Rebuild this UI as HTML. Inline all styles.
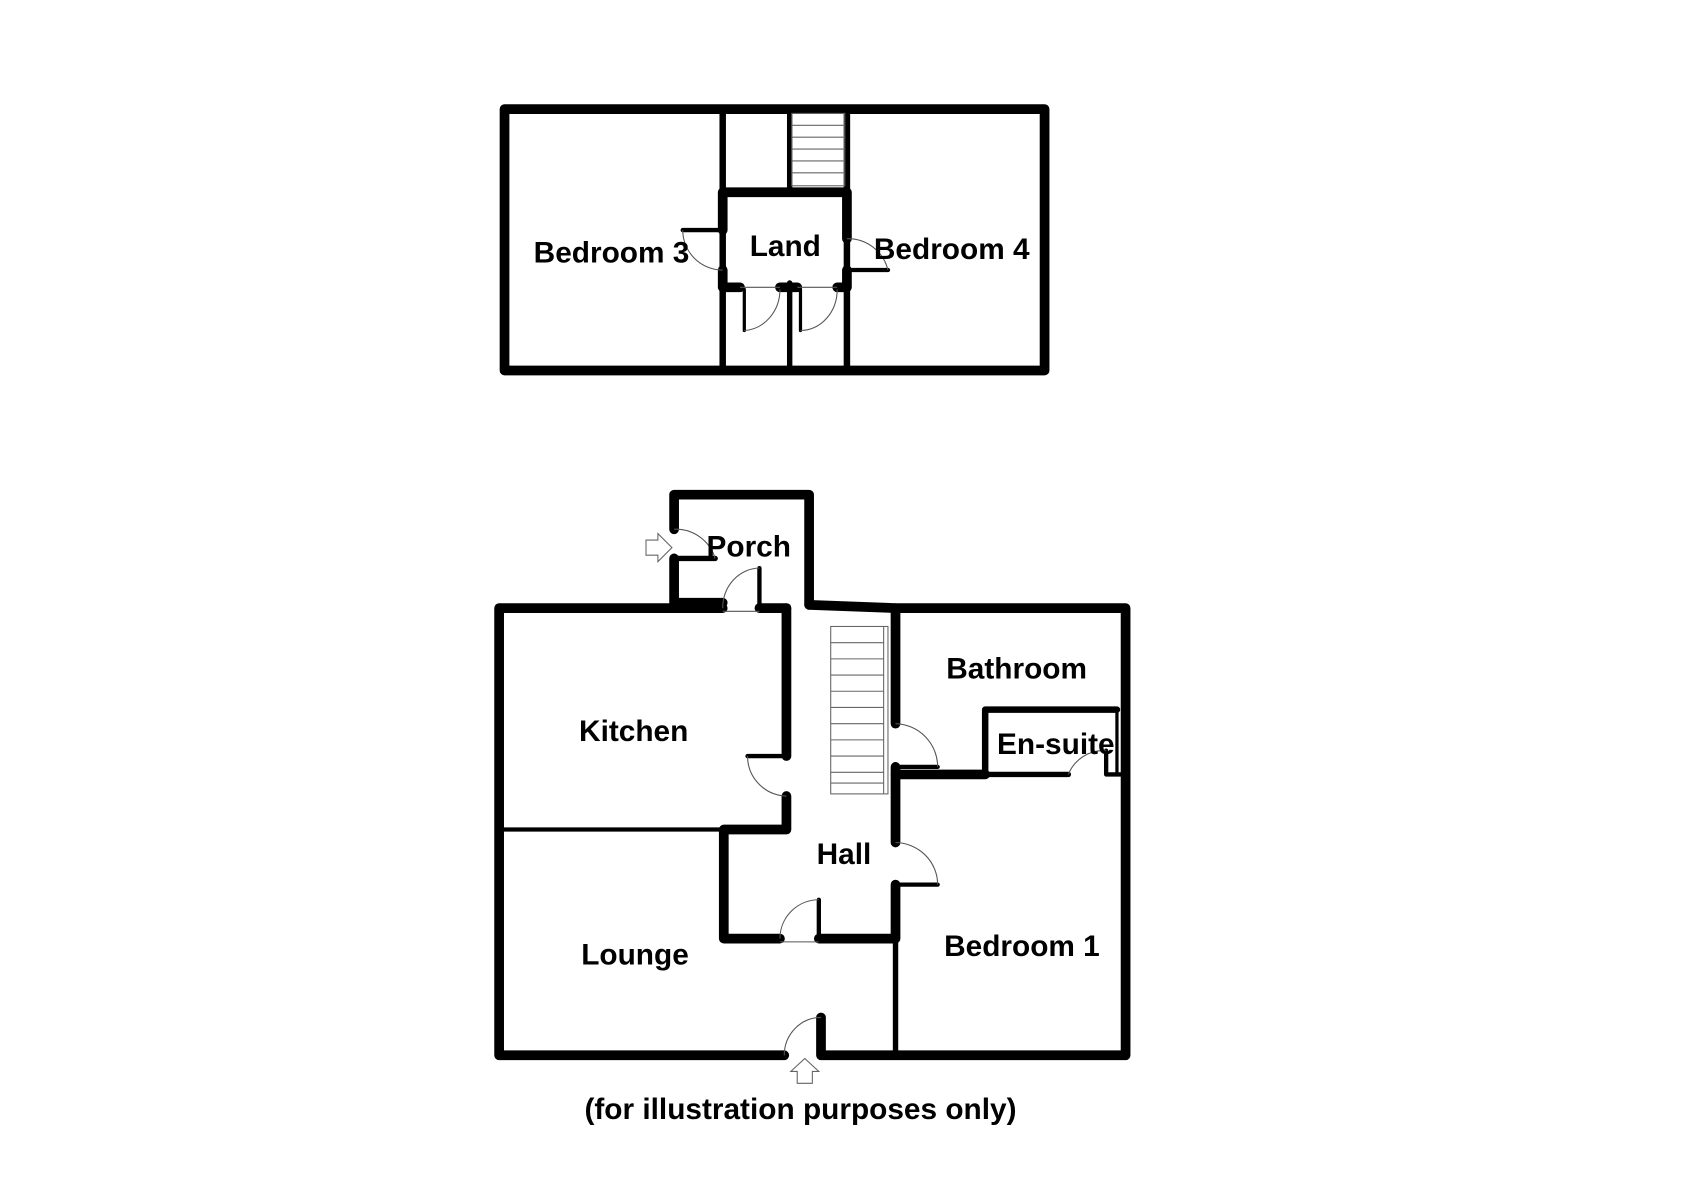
<!DOCTYPE html>
<html><head><meta charset="utf-8"><style>
html,body{margin:0;padding:0;background:#fff;}
svg{display:block;}
text{font-family:"Liberation Sans",Arial,sans-serif;font-weight:bold;font-size:27.6px;fill:#000;}
</style></head><body>
<svg width="1696" height="1200" viewBox="0 0 1570 1111" xmlns="http://www.w3.org/2000/svg">
<g fill="none" stroke="#000" stroke-linecap="round" stroke-linejoin="round">
<rect x="467" y="101" width="500" height="242" stroke-width="9"/>
<line x1="669" y1="101" x2="669" y2="343" stroke-width="6"/>
<line x1="731" y1="101" x2="731" y2="176" stroke-width="5"/>
<line x1="784" y1="101" x2="784" y2="343" stroke-width="6"/>
<line x1="731" y1="262" x2="731" y2="343" stroke-width="5"/>
<path d="M669 213 V178 H784 V221" stroke-width="9"/>
<path d="M669 250 V266 H685" stroke-width="9"/>
<path d="M784 250 V266 H775" stroke-width="9"/>
<line x1="722" y1="266" x2="738" y2="266" stroke-width="9"/>
<line x1="632" y1="213" x2="669" y2="213" stroke-width="4"/>
<line x1="784" y1="250" x2="822" y2="250" stroke-width="4"/>
<line x1="689" y1="268" x2="689" y2="306" stroke-width="3"/>
<line x1="741" y1="268" x2="741" y2="306" stroke-width="3"/>
</g>
<g fill="none" stroke="#555" stroke-width="1">
<path d="M632 213 A37 37 0 0 0 669 250"/>
<path d="M784 221 A38 38 0 0 1 822 250"/>
<path d="M689 306 A35 38 0 0 0 722 268"/>
<path d="M741 306 A34 38 0 0 0 775 268"/>
<line x1="685" y1="266" x2="722" y2="266"/><line x1="738" y1="266" x2="775" y2="266"/>
</g>
<g stroke="#666" stroke-width="1">
<rect x="733" y="105" width="49" height="67" fill="none"/>
<line x1="733" y1="116" x2="782" y2="116"/><line x1="733" y1="127" x2="782" y2="127"/>
<line x1="733" y1="138" x2="782" y2="138"/><line x1="733" y1="149" x2="782" y2="149"/>
<line x1="733" y1="160" x2="782" y2="160"/>
</g>

<g fill="none" stroke="#000" stroke-linecap="round" stroke-linejoin="round">
<path d="M669 563 H462 V977 H726" stroke-width="9"/>
<path d="M760 942 V977 H1042 V563 H829 L749 560" stroke-width="9"/>
<path d="M703 563 H728" stroke-width="9"/>
<path d="M624 490 V458 H749 V560" stroke-width="9"/>
<path d="M624 517 V558 H669" stroke-width="9"/>
<line x1="624" y1="517" x2="662" y2="517" stroke-width="5"/>
<line x1="703" y1="526" x2="703" y2="563" stroke-width="4"/>
<line x1="728" y1="563" x2="728" y2="700" stroke-width="9"/>
<line x1="692" y1="700" x2="728" y2="700" stroke-width="4"/>
<path d="M728 737 V768 H670 V869 H722" stroke-width="9"/>
<line x1="462" y1="768" x2="670" y2="768" stroke-width="4"/>
<path d="M758 869 H829 V819" stroke-width="9"/>
<line x1="758" y1="833" x2="758" y2="869" stroke-width="4"/>
<line x1="829" y1="563" x2="829" y2="670" stroke-width="9"/>
<path d="M829 710 V780" stroke-width="9"/>
<line x1="829" y1="710" x2="868" y2="710" stroke-width="4"/>
<line x1="829" y1="819" x2="868" y2="819" stroke-width="4"/>
<line x1="829" y1="869" x2="829" y2="977" stroke-width="5"/>
<line x1="760" y1="942" x2="760" y2="977" stroke-width="5"/>
<line x1="829" y1="717" x2="912" y2="717" stroke-width="9"/>
<path d="M912 717 V657 H1034" stroke-width="6"/>
<line x1="912" y1="717" x2="989" y2="717" stroke-width="5"/>
<path d="M1024 695 V717 H1042" stroke-width="4"/>
<line x1="1034" y1="657" x2="1034" y2="717" stroke-width="3"/>
</g>
<g fill="none" stroke="#555" stroke-width="1">
<path d="M624 490 A38 38 0 0 1 662 517"/>
<path d="M669 563 A34 37 0 0 1 703 526"/>
<path d="M692 700 A37 37 0 0 0 728 737"/>
<path d="M722 869 A36 36 0 0 1 758 833"/>
<path d="M829 670 A40 40 0 0 1 868 710"/>
<path d="M829 780 A40 39 0 0 1 868 819"/>
<path d="M726 977 A34 35 0 0 1 760 942"/>
<path d="M989 717 A35 35 0 0 1 1024 695"/>
<line x1="669" y1="566" x2="703" y2="566"/><line x1="722" y1="872" x2="758" y2="872"/>
</g>
<g stroke="#666" stroke-width="1" fill="none">
<rect x="769" y="580" width="53" height="155"/>
<line x1="818" y1="580" x2="818" y2="735"/>
<line x1="769" y1="595" x2="818" y2="595"/><line x1="769" y1="610" x2="818" y2="610"/>
<line x1="769" y1="625" x2="818" y2="625"/><line x1="769" y1="640" x2="818" y2="640"/>
<line x1="769" y1="655" x2="818" y2="655"/><line x1="769" y1="670" x2="818" y2="670"/>
<line x1="769" y1="685" x2="818" y2="685"/><line x1="769" y1="700" x2="818" y2="700"/>
<line x1="769" y1="715" x2="818" y2="715"/><line x1="769" y1="725" x2="818" y2="725"/>
<path d="M598 500 H609 V494 L622 507 L609 520 V514 H598 Z" fill="#fff"/>
<path d="M738 1003 V992 H732 L745 980 L758 992 H752 V1003 Z" fill="#fff"/>
</g>

<text x="494" y="243">Bedroom 3</text>
<text x="694" y="237">Land</text>
<text x="809" y="240">Bedroom 4</text>
<text x="654" y="515">Porch</text>
<text x="876" y="628">Bathroom</text>
<text x="536" y="686">Kitchen</text>
<text x="923" y="698">En-suite</text>
<text x="756" y="800">Hall</text>
<text x="874" y="885">Bedroom 1</text>
<text x="538" y="893">Lounge</text>
<text x="541" y="1036">(for illustration purposes only)</text>
</svg>
</body></html>
